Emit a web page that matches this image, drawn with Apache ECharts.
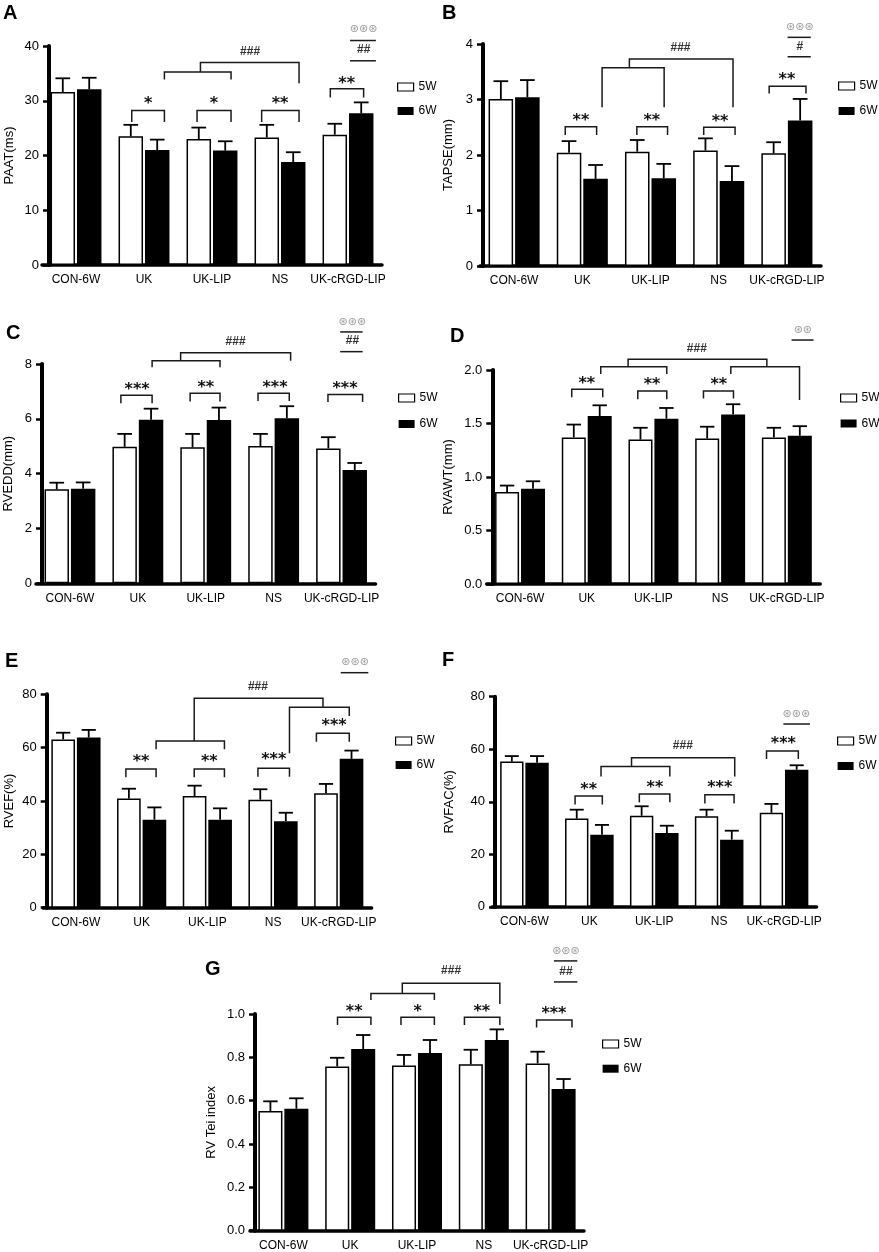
<!DOCTYPE html>
<html>
<head>
<meta charset="utf-8">
<script src="https://cdn.jsdelivr.net/npm/echarts@6/dist/echarts.min.js"></script>
<style>
  html, body { margin: 0; padding: 0; background: #fff; }
  #chart { width: 879px; height: 1252px; }
</style>
</head>
<body>
<div id="chart"></div>
<script>
const categories = ['CON-6W', 'UK', 'UK-LIP', 'NS', 'UK-cRGD-LIP'];

// A - PAAT
const paatMean5w = [31.6, 23.5, 23.0, 23.3, 23.8];
const paatSd5w = [2.5, 2.1, 2.1, 2.3, 2.0];
const paatMean6w = [32.1, 21.0, 20.9, 18.8, 27.7];
const paatSd6w = [2.1, 1.9, 1.7, 1.8, 2.0];
// B - TAPSE
const tapseMean5w = [3.01, 2.04, 2.06, 2.08, 2.03];
const tapseSd5w = [0.32, 0.21, 0.21, 0.22, 0.20];
const tapseMean6w = [3.04, 1.57, 1.58, 1.53, 2.62];
const tapseSd6w = [0.31, 0.25, 0.26, 0.27, 0.39];
// C - RVEDD
const rveddMean5w = [3.43, 4.98, 4.96, 5.01, 4.92];
const rveddSd5w = [0.24, 0.47, 0.49, 0.44, 0.41];
const rveddMean6w = [3.45, 5.97, 5.96, 6.02, 4.13];
const rveddSd6w = [0.23, 0.40, 0.45, 0.44, 0.26];
// D - RVAWT
const rvawtMean5w = [0.86, 1.37, 1.35, 1.36, 1.37];
const rvawtSd5w = [0.06, 0.12, 0.11, 0.11, 0.09];
const rvawtMean6w = [0.89, 1.57, 1.545, 1.585, 1.385];
const rvawtSd6w = [0.07, 0.10, 0.10, 0.095, 0.09];
// E - RVEF
const rvefMean5w = [63.1, 40.9, 41.9, 40.5, 42.9];
const rvefSd5w = [2.5, 3.7, 3.85, 3.9, 3.5];
const rvefMean6w = [63.8, 33.0, 33.0, 32.4, 55.8];
const rvefSd6w = [2.85, 4.6, 4.25, 3.2, 3.1];
// F - RVFAC
const rvfacMean5w = [55.3, 33.6, 34.7, 34.5, 35.8];
const rvfacSd5w = [2.1, 3.4, 3.6, 2.5, 3.4];
const rvfacMean6w = [54.9, 27.5, 28.1, 25.6, 52.2];
const rvfacSd6w = [2.5, 3.7, 2.8, 3.4, 1.7];
// G - RV Tei index
const teiMean5w = [0.552, 0.758, 0.762, 0.768, 0.772];
const teiSd5w = [0.045, 0.04, 0.049, 0.067, 0.054];
const teiMean6w = [0.563, 0.838, 0.82, 0.88, 0.654];
const teiSd6w = [0.048, 0.065, 0.06, 0.049, 0.046];

// bar geometry (fraction of the category band)
const BAR_FRAC = 0.36;
const GAP_FRAC = 0.08;

// significance marks, x = category index + fraction of band, y = axis value
function bracket(x1, x2, yTop, yLeg1, yLeg2) {
  return { kind: 'line', pts: [[x1, yLeg1], [x1, yTop], [x2, yTop], [x2, yLeg2]] };
}
function seg(x1, x2, y) {
  return { kind: 'line', pts: [[x1, y], [x2, y]] };
}
function mark(text, x, y, style) {
  return { kind: 'text', text: text, x: x, y: y, style: style || 'star' };
}

const annotA = [
  bracket(0.82, 1.30, 28.2, 26.1, 26.1), mark('*', 1.06, 30.1),
  bracket(1.78, 2.28, 28.2, 26.1, 26.1), mark('*', 2.03, 30.1),
  bracket(2.73, 3.28, 28.2, 26.1, 26.1), mark('**', 3.0, 30.1),
  bracket(3.74, 4.23, 32.2, 30.6, 30.6), mark('**', 3.98, 33.8),
  bracket(1.30, 2.28, 35.25, 33.9, 33.9),
  { kind: 'line', pts: [[1.83, 35.25], [1.83, 37.0], [3.28, 37.0], [3.28, 33.2]] },
  mark('###', 2.56, 39.0, 'hash'),
  seg(4.03, 4.41, 41.0), seg(4.03, 4.41, 37.3),
  mark('⊛⊛⊛', 4.23, 43.0, 'dot'), mark('##', 4.23, 39.3, 'hash')
];
const annotB = [
  bracket(0.75, 1.21, 2.51, 2.36, 2.36), mark('**', 0.98, 2.68),
  bracket(1.80, 2.25, 2.51, 2.36, 2.36), mark('**', 2.02, 2.68),
  bracket(2.78, 3.24, 2.50, 2.36, 2.36), mark('**', 3.02, 2.66),
  bracket(3.74, 4.28, 3.24, 3.11, 3.11), mark('**', 4.0, 3.42),
  bracket(1.29, 2.20, 3.57, 2.86, 2.86),
  { kind: 'line', pts: [[1.69, 3.57], [1.69, 3.73], [3.21, 3.73], [3.21, 2.86]] },
  mark('###', 2.44, 3.94, 'hash'),
  seg(4.01, 4.35, 4.12), seg(4.01, 4.35, 3.77),
  mark('⊛⊛⊛', 4.19, 4.30, 'dot'), mark('#', 4.19, 3.95, 'hash')
];
const annotC = [
  bracket(0.75, 1.21, 6.86, 6.57, 6.57), mark('***', 0.99, 7.20),
  bracket(1.77, 2.21, 6.93, 6.63, 6.63), mark('**', 2.0, 7.27),
  bracket(2.77, 3.23, 6.93, 6.65, 6.65), mark('***', 3.02, 7.27),
  bracket(3.80, 4.31, 6.89, 6.61, 6.61), mark('***', 4.05, 7.23),
  bracket(1.21, 2.21, 8.12, 7.88, 7.88),
  { kind: 'line', pts: [[1.63, 8.12], [1.63, 8.41], [3.25, 8.41], [3.25, 8.12]] },
  mark('###', 2.44, 8.81, 'hash'),
  seg(3.98, 4.31, 9.17), seg(3.98, 4.31, 8.45),
  mark('⊛⊛⊛', 4.16, 9.52, 'dot'), mark('##', 4.16, 8.85, 'hash')
];
const annotD = [
  bracket(0.775, 1.24, 1.819, 1.745, 1.745), mark('**', 1.0, 1.907),
  bracket(1.765, 2.20, 1.804, 1.726, 1.726), mark('**', 1.98, 1.891),
  bracket(2.75, 3.20, 1.804, 1.733, 1.733), mark('**', 2.98, 1.891),
  bracket(1.21, 2.20, 2.031, 1.963, 1.963),
  bracket(3.16, 4.19, 2.031, 1.963, 1.72),
  bracket(1.62, 3.70, 2.10, 2.031, 2.031),
  mark('###', 2.65, 2.196, 'hash'),
  seg(4.07, 4.40, 2.28), mark('⊛⊛', 4.24, 2.372, 'dot')
];
const annotE = [
  bracket(0.76, 1.22, 52.0, 48.9, 48.9), mark('**', 0.99, 56.0),
  bracket(1.80, 2.26, 52.0, 48.9, 48.9), mark('**', 2.03, 56.0),
  bracket(2.77, 3.25, 52.25, 49.1, 49.1), mark('***', 3.01, 56.6),
  bracket(3.66, 4.16, 65.4, 62.25, 62.25), mark('***', 3.93, 69.4),
  bracket(1.22, 2.26, 62.5, 59.4, 59.4),
  { kind: 'line', pts: [[1.80, 62.5], [1.80, 78.5], [3.76, 78.5], [3.76, 75.1]] },
  bracket(3.25, 4.16, 75.1, 57.9, 71.9),
  mark('###', 2.77, 82.9, 'hash'),
  seg(4.03, 4.45, 88.1), mark('⊛⊛⊛', 4.25, 92.0, 'dot')
];
const annotF = [
  bracket(0.78, 1.20, 42.2, 39.0, 39.0), mark('**', 0.99, 46.0),
  bracket(1.77, 2.24, 43.0, 39.8, 39.8), mark('**', 2.01, 46.7),
  bracket(2.78, 3.23, 42.7, 39.4, 39.4), mark('***', 3.01, 46.7),
  bracket(3.73, 4.22, 59.3, 56.3, 56.3), mark('***', 3.99, 63.3),
  bracket(1.18, 2.24, 53.4, 49.6, 49.6),
  { kind: 'line', pts: [[1.65, 53.4], [1.65, 56.8], [3.24, 56.8], [3.24, 49.6]] },
  mark('###', 2.44, 61.3, 'hash'),
  seg(3.99, 4.40, 69.6), mark('⊛⊛⊛', 4.19, 73.3, 'dot')
];
const annotG = [
  bracket(0.81, 1.31, 0.985, 0.949, 0.949), mark('**', 1.06, 1.026),
  bracket(1.76, 2.26, 0.985, 0.949, 0.949), mark('*', 2.01, 1.026),
  bracket(2.71, 3.24, 0.985, 0.949, 0.949), mark('**', 2.97, 1.026),
  bracket(3.79, 4.32, 0.972, 0.938, 0.938), mark('***', 4.05, 1.018),
  bracket(1.31, 2.26, 1.095, 1.065, 1.065),
  { kind: 'line', pts: [[1.78, 1.095], [1.78, 1.142], [3.24, 1.142], [3.24, 1.046]] },
  mark('###', 2.51, 1.198, 'hash'),
  seg(4.05, 4.40, 1.245), seg(4.05, 4.40, 1.148),
  mark('⊛⊛⊛', 4.23, 1.292, 'dot'), mark('##', 4.23, 1.195, 'hash')
];

const panels = [
  { letter: 'A', name: 'PAAT(ms)', max: 40, step: 10, dec: 0,
    m5: paatMean5w, s5: paatSd5w, m6: paatMean6w, s6: paatSd6w, annots: annotA,
    grid: { left: 42, top: 46, width: 340, height: 219 }, offset: -7, nameGap: 33,
    legend: { left: 392, top: 76, gap: 12 }, pos: [3, 3] },
  { letter: 'B', name: 'TAPSE(mm)', max: 4, step: 1, dec: 0,
    m5: tapseMean5w, s5: tapseSd5w, m6: tapseMean6w, s6: tapseSd6w, annots: annotB,
    grid: { left: 480, top: 44, width: 341, height: 222 }, offset: -3, nameGap: 28,
    legend: { left: 833, top: 75, gap: 13 }, pos: [442, 3] },
  { letter: 'C', name: 'RVEDD(mm)', max: 8, step: 2, dec: 0,
    m5: rveddMean5w, s5: rveddSd5w, m6: rveddMean6w, s6: rveddSd6w, annots: annotC,
    grid: { left: 36, top: 364, width: 339.5, height: 219.3 }, offset: -6, nameGap: 27,
    legend: { left: 393, top: 387, gap: 14 }, pos: [6, 323] },
  { letter: 'D', name: 'RVAWT(mm)', max: 2, step: 0.5, dec: 1,
    m5: rvawtMean5w, s5: rvawtSd5w, m6: rvawtMean6w, s6: rvawtSd6w, annots: annotD,
    grid: { left: 486.7, top: 370, width: 333.5, height: 214 }, offset: -5.6, nameGap: 37,
    legend: { left: 835, top: 387, gap: 13.5 }, pos: [450, 326] },
  { letter: 'E', name: 'RVEF(%)', max: 80, step: 20, dec: 0,
    m5: rvefMean5w, s5: rvefSd5w, m6: rvefMean6w, s6: rvefSd6w, annots: annotE,
    grid: { left: 43.1, top: 694.3, width: 328.5, height: 213.4 }, offset: -3.6, nameGap: 31,
    legend: { left: 390, top: 730, gap: 12 }, pos: [5, 651] },
  { letter: 'F', name: 'RVFAC(%)', max: 80, step: 20, dec: 0,
    m5: rvfacMean5w, s5: rvfacSd5w, m6: rvfacMean6w, s6: rvfacSd6w, annots: annotF,
    grid: { left: 492, top: 696.7, width: 324.5, height: 210.2 }, offset: -3, nameGap: 39,
    legend: { left: 832, top: 730, gap: 13 }, pos: [442, 650] },
  { letter: 'G', name: 'RV Tei index', max: 1, step: 0.2, dec: 1,
    m5: teiMean5w, s5: teiSd5w, m6: teiMean6w, s6: teiSd6w, annots: annotG,
    grid: { left: 250, top: 1014, width: 334, height: 216.7 }, offset: -5, nameGap: 37,
    legend: { left: 597, top: 1033, gap: 12.7 }, pos: [205, 959] }
];

const FONT = '"Liberation Sans", Arial, sans-serif';

// x = category index + fraction of the band
function toPx(api, x, y) {
  const idx = Math.round(x);
  const c = api.coord([idx, y]);
  const band = api.size([1, 0])[0];
  return [c[0] + (x - idx) * band, c[1]];
}

function renderError(params, api) {
  const cat = api.value(0);
  const mean = api.value(1);
  const sd = api.value(2);
  const side = api.value(3);
  const band = api.size([1, 0])[0];
  const bw = band * BAR_FRAC;
  const x = api.coord([cat, mean])[0] + side * bw * (1 + GAP_FRAC) / 2;
  const y0 = api.coord([cat, mean])[1];
  const y1 = api.coord([cat, mean + sd])[1];
  const cap = bw * 0.3;
  const st = { stroke: '#000', lineWidth: 1.8 };
  return {
    type: 'group',
    children: [
      { type: 'line', shape: { x1: x, y1: y0, x2: x, y2: y1 }, style: st },
      { type: 'line', shape: { x1: x - cap, y1: y1, x2: x + cap, y2: y1 }, style: st }
    ]
  };
}

function makeAnnotRenderer(annots) {
  return function (params, api) {
    const a = annots[params.dataIndex];
    if (a.kind === 'line') {
      return {
        type: 'polyline',
        shape: { points: a.pts.map(p => toPx(api, p[0], p[1])) },
        style: { stroke: '#1a1a1a', lineWidth: 1.5, fill: null }
      };
    }
    const p = toPx(api, a.x, a.y);
    let style;
    if (a.style === 'star') {
      // asterisk sits high in the em box, push it down a bit
      style = { fontSize: 16, fontWeight: 'bold', fontFamily: '"DejaVu Sans", sans-serif', fill: '#111' };
      p[1] += 3.5;
    } else if (a.style === 'hash') {
      style = { fontSize: 12, fontWeight: 'bold', fontFamily: FONT, fill: '#333' };
    } else {
      style = { fontSize: 11, fontFamily: '"DejaVu Sans", sans-serif', fill: '#9a9a9a' };
    }
    return {
      type: 'text',
      style: Object.assign({ text: a.text, x: p[0], y: p[1], align: 'center', verticalAlign: 'middle' }, style)
    };
  };
}

let chart = echarts.init(document.getElementById('chart'));
let grid = [], xAxis = [], yAxis = [], series = [], legend = [], title = [];

panels.forEach((p, i) => {
  grid.push(Object.assign({ containLabel: false }, p.grid));
  xAxis.push({
    gridIndex: i,
    type: 'category',
    data: categories,
    axisLine: { lineStyle: { color: '#000', width: 3.5 } },
    axisTick: { alignWithLabel: true, length: 7, lineStyle: { color: '#000', width: 4 } },
    axisLabel: { interval: 0, margin: 9, color: '#000', fontSize: 12, fontFamily: FONT },
    splitLine: { show: false }
  });
  yAxis.push({
    gridIndex: i,
    type: 'value',
    min: 0,
    max: p.max,
    interval: p.step,
    offset: p.offset,
    name: p.name,
    nameLocation: 'middle',
    nameGap: p.nameGap,
    nameTextStyle: { color: '#000', fontSize: 13, fontFamily: FONT },
    axisLine: { show: true, lineStyle: { color: '#000', width: 4 } },
    axisTick: { show: true, length: 6, lineStyle: { color: '#000', width: 2.5 } },
    axisLabel: { margin: 10, color: '#000', fontSize: 13, fontFamily: FONT,
      formatter: v => v.toFixed(p.dec) },
    splitLine: { show: false }
  });
  series.push({
    name: '5W', type: 'bar', xAxisIndex: i, yAxisIndex: i, data: p.m5,
    barWidth: (BAR_FRAC * 100) + '%', barGap: (GAP_FRAC * 100) + '%',
    itemStyle: { color: '#fff', borderColor: '#000', borderWidth: 1.5 }
  });
  series.push({
    name: '6W', type: 'bar', xAxisIndex: i, yAxisIndex: i, data: p.m6,
    barWidth: (BAR_FRAC * 100) + '%', barGap: (GAP_FRAC * 100) + '%',
    itemStyle: { color: '#000' }
  });
  series.push({
    type: 'custom', xAxisIndex: i, yAxisIndex: i,
    renderItem: renderError,
    data: p.m5.map((m, j) => [j, m, p.s5[j], -1]).concat(p.m6.map((m, j) => [j, m, p.s6[j], 1])),
    z: 3
  });
  series.push({
    type: 'custom', xAxisIndex: i, yAxisIndex: i,
    renderItem: makeAnnotRenderer(p.annots),
    data: p.annots.map(() => [0, 0]),
    clip: false,
    z: 4
  });
  legend.push({
    orient: 'vertical',
    left: p.legend.left,
    top: p.legend.top,
    itemGap: p.legend.gap,
    itemWidth: 16,
    itemHeight: 8,
    selectedMode: false,
    icon: 'rect',
    textStyle: { color: '#000', fontSize: 12, fontFamily: FONT },
    data: [
      { name: '5W', itemStyle: { color: '#fff', borderColor: '#000', borderWidth: 1.2 } },
      { name: '6W', itemStyle: { color: '#000' } }
    ]
  });
  title.push({
    text: p.letter, left: p.pos[0], top: p.pos[1], padding: 0,
    textStyle: { color: '#000', fontSize: 20, fontWeight: 'bold', fontFamily: FONT }
  });
});

chart.setOption({
  animation: false,
  title: title,
  legend: legend,
  grid: grid,
  xAxis: xAxis,
  yAxis: yAxis,
  series: series
});
</script>
</body>
</html>
